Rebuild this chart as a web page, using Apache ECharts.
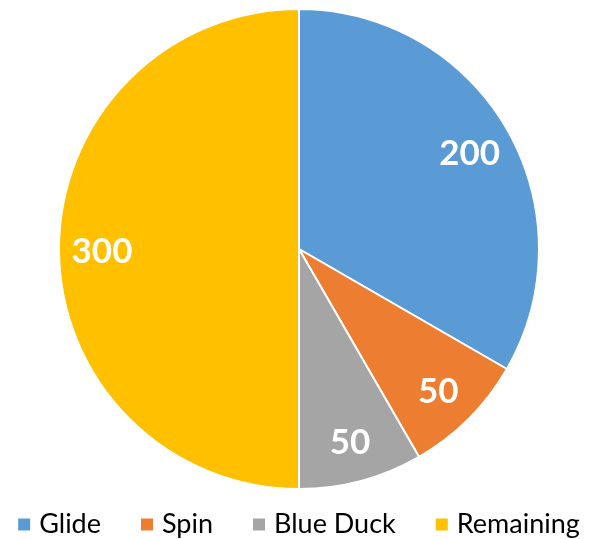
<!DOCTYPE html>
<html><head><meta charset="utf-8">
<style>html,body{margin:0;padding:0;background:#fff}#c{width:596px;height:539px}</style>
<script src="https://cdn.jsdelivr.net/npm/echarts@6/dist/echarts.min.js"></script>
</head><body><div id="c"></div>
<script>
const categories = ['Glide', 'Spin', 'Blue Duck', 'Remaining'];
const values = [200, 50, 50, 300];
const colors = ['#5B9BD5', '#ED7D31', '#A5A5A5', '#FFC000'];

const data = categories.map((n, i) => ({ name: n, value: values[i] }));
const chart = echarts.init(document.getElementById('c'), null, { renderer: 'canvas' });
chart.setOption({
  animation: false,
  color: colors,
  legend: {
    data: categories,
    left: 'center',
    top: 506,
    icon: 'rect',
    itemWidth: 14,
    itemHeight: 14,
    itemGap: 38,
    textStyle: { fontFamily: 'Lato', fontSize: 27, color: '#000', padding: [0, 0, 0, 3] }
  },
  series: [
    {
      type: 'pie',
      center: [299, 249],
      radius: [0, 240],
      startAngle: 90,
      clockwise: true,
      data: data,
      label: { show: false },
      labelLine: { show: false },
      itemStyle: { borderColor: '#fff', borderWidth: 2 },
      emphasis: { disabled: true }
    },
    {
      type: 'pie',
      center: [299, 252],
      radius: [148, 240],
      startAngle: 90,
      clockwise: true,
      silent: true,
      legendHoverLink: false,
      data: data,
      itemStyle: { color: 'rgba(0,0,0,0)', borderWidth: 0 },
      label: {
        show: true, position: 'inside', formatter: '{c}',
        color: '#fff', fontFamily: 'Lato', fontWeight: 'bold', fontSize: 35
      },
      labelLine: { show: false },
      emphasis: { disabled: true }
    }
  ]
});
</script></body></html>
